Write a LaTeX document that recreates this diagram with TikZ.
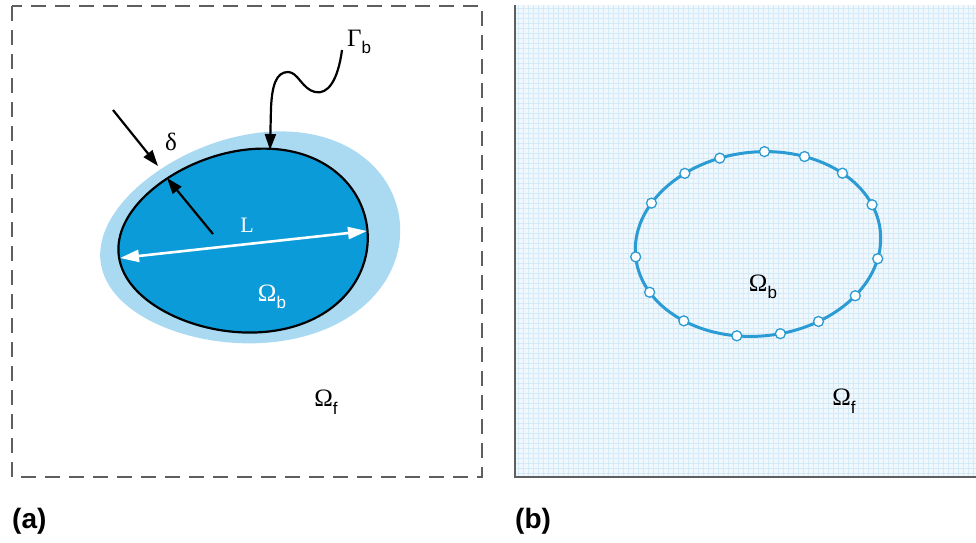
\documentclass[tikz,border=0pt]{standalone}
\usepackage{fontspec}
\setmainfont{Liberation Serif}
\newfontfamily\sansf{Liberation Sans}
\usetikzlibrary{arrows.meta,shapes.geometric}
\definecolor{blobblue}{HTML}{0B9BD9}
\definecolor{haloblue}{HTML}{AADAF2}
\definecolor{gridbg}{HTML}{F0F8FE}
\definecolor{gridline}{HTML}{D5EAF7}
\definecolor{ringblue}{HTML}{2B9BD3}
\definecolor{framegray}{HTML}{5E5E5E}
\newcommand\subsc[1]{\raisebox{-0.3em}{\sansf\fontsize{17}{17}\selectfont #1}}
\tikzset{
  frameline/.style={draw=framegray, line width=1.6pt, dash pattern=on 15pt off 9pt},
  symb/.style={inner sep=0pt, font=\fontsize{25}{28}\selectfont},
  panellab/.style={inner sep=0pt, anchor=west, font=\sansf\bfseries\fontsize{28}{30}\selectfont},
  blkarrow/.style={line width=2.2pt, -{Triangle[length=16pt,width=11pt]}},
  whtarrow/.style={draw=white, line width=2.6pt, {Triangle[length=19pt,width=12pt]}-{Triangle[length=19pt,width=12pt]}},
  mk/.style={circle, draw=ringblue, fill=white, line width=1.3pt, minimum size=10pt, inner sep=0pt},
}
\begin{document}
\begin{tikzpicture}[x=1pt,y=-1pt]
\useasboundingbox (0,0) rectangle (976,542);
% ---------- panel (a)
\draw[frameline] (12,6) rectangle (482,477);
% halo (egg shape)
\fill[haloblue] plot[domain=0:360, samples=120, smooth, variable=\t]
  ({250 + 151*cos(\t)*cos(9) - 104*(1+0.12*cos(\t))*sin(\t)*sin(9)},
   {240 - (151*cos(\t)*sin(9) + 104*(1+0.12*cos(\t))*sin(\t)*cos(9))}) -- cycle;
% body (egg shape)
\draw[fill=blobblue, line width=2.2pt] plot[domain=0:360, samples=120, smooth, variable=\t]
  ({243 + 125*cos(\t)*cos(5.7) - 91*(1+0.12*cos(\t))*sin(\t)*sin(5.7)},
   {242 - (125*cos(\t)*sin(5.7) + 91*(1+0.12*cos(\t))*sin(\t)*cos(5.7))}) -- cycle;
\coordinate (La) at (120,258);
\coordinate (Lb) at (367,231);
\draw[whtarrow] (La) -- (Lb);
\node[symb, text=white, font=\fontsize{22}{24}\selectfont] (Ltxt) at (247,225) {L};
\node[symb, text=white] (omb) at (272,297) {Ω\subsc{b}};
\coordinate (d1) at (113,110);
\coordinate (d2) at (158,166);
\draw[blkarrow] (d1) -- (d2);
\coordinate (e1) at (213,234);
\coordinate (e2) at (167,178);
\draw[blkarrow] (e1) -- (e2);
\node[symb] (delta) at (171,142) {δ};
\coordinate (g0) at (342,50);
\coordinate (gt) at (270,150);
\draw[blkarrow] (g0) .. controls (338,80) and (328,95) .. (315,92) .. controls (302,89) and (298,72) .. (288,72) .. controls (276,72) and (272,86) .. (271,108) -- (gt);
\node[symb, anchor=west] (gam) at (347,42) {Γ\subsc{b}};
\node[symb] (omf) at (326,402) {Ω\subsc{f}};
\node[panellab] (laba) at (12,521) {(a)};
% ---------- panel (b)
\fill[gridbg] (515,5) rectangle (976,477);
\foreach \x in {518,523,...,976} \draw[gridline, line width=0.6pt] (\x,5) -- (\x,477);
\foreach \y in {8,13,...,476} \draw[gridline, line width=0.6pt] (515,\y) -- (976,\y);
\draw[framegray, line width=1.8pt] (515,5) -- (515,477) -- (976,477);
\node[ellipse, draw=ringblue, line width=3pt, minimum width=246pt, minimum height=184pt, inner sep=0pt, outer sep=0pt, rotate=6] (ring) at (758,244) {};
\foreach \a [count=\i] in {180.5,198,220.6,251,278,302,326,347,13,34,56,80,108,130,153}
  \node[mk] (m\i) at (ring.\a) {};
\node[symb] (omb2) at (763,287) {Ω\subsc{b}};
\node[symb] (omf2) at (844,401) {Ω\subsc{f}};
\node[panellab] (labb) at (515,521) {(b)};
\end{tikzpicture}
\end{document}
